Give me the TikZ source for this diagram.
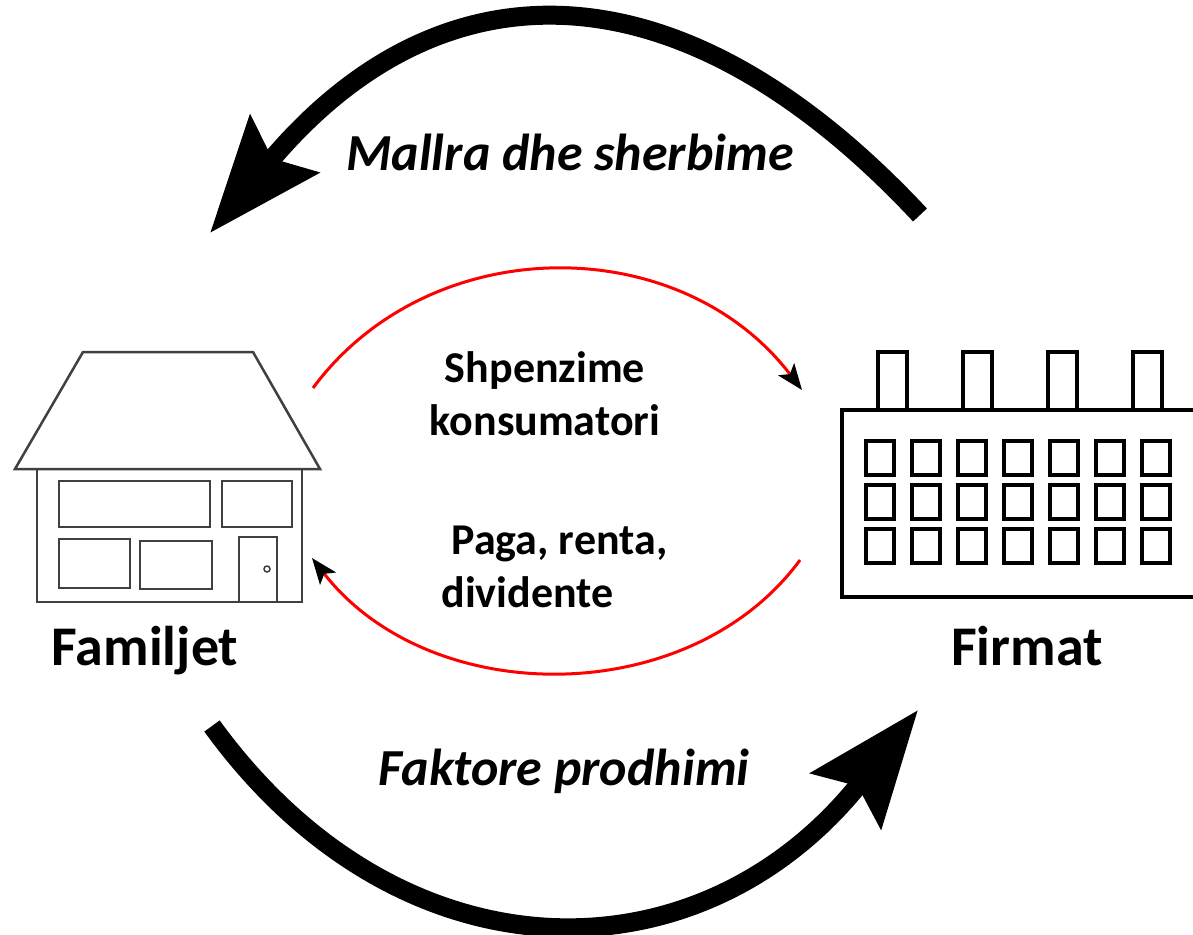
\documentclass[tikz,border=0pt]{standalone}
\usepackage{fontspec}
\setmainfont{Carlito}
\usetikzlibrary{arrows.meta}

\begin{document}
\begin{tikzpicture}[x=1pt,y=-1pt,
  flow/.style={line width=19pt,-{Stealth[length=115pt,width=88pt,inset=18pt]}},
  money/.style={red,line width=3pt,-{Stealth[length=26pt,width=20pt,inset=6pt,color=black]}},
  big/.style={font=\fontsize{56}{64}\selectfont\bfseries},
  flowtext/.style={font=\fontsize{52}{60}\selectfont\bfseries\itshape},
  small/.style={font=\fontsize{44}{53}\selectfont\bfseries},
  wall/.style={draw=black!75,line width=2.5pt},
  plant/.style={draw=black,line width=4pt}]
\useasboundingbox (0,0) rectangle (1193,934);

% house
\draw[wall] (83,352) -- (253,352) -- (320,469) -- (15,469) -- cycle;
\draw[wall] (37,469) rectangle (302,602);
\draw[wall] (59,481) rectangle (210,527);
\draw[wall] (222,481) rectangle (292,527);
\draw[wall] (59,539) rectangle (130,588);
\draw[wall] (140,541) rectangle (212,589);
\draw[wall] (239,537) rectangle (277,602);
\draw[wall,line width=1.5pt] (267,569) circle (3);

% factory
\draw[plant] (1200,410) -- (842,410) -- (842,597) -- (1200,597);
\foreach \x in {878,963,1048,1133}
  \draw[plant,line width=3.5pt] (\x,410) -- (\x,352) -- ({\x+29},352) -- ({\x+29},410);
\foreach \i in {0,...,6}
  \foreach \j in {0,1,2}
    \draw[plant,line width=3.5pt] ({866+46*\i},{441+44*\j}) rectangle +(28,34);

\node[big,anchor=base] (familjet) at (145,665) {Familjet};
\node[big,anchor=base] (firmat) at (1027,665) {Firmat};
\node[flowtext,anchor=base] (mallra) at (570,170) {Mallra dhe sherbime};
\node[flowtext,anchor=base] (faktore) at (564,785) {Faktore prodhimi};
\node[small,align=center,anchor=base] (shpenzime) at (545,435) {Shpenzime\\konsumatori};
\node[small,align=left,anchor=base west] (paga) at (438,607) {\hspace{10pt}Paga, renta,\\dividente};

\coordinate (h1) at (313,388);
\coordinate (f1) at (802,390);
\coordinate (f2) at (800,560);
\coordinate (h2) at (312,558);
\coordinate (ftop) at (920,215);
\coordinate (htop) at (210,233);
\coordinate (hbot) at (212,726);
\coordinate (fbot) at (918,710);

\draw[money] (h1) .. controls (430,230) and (680,230) .. (f1);
\draw[money] (f2) .. controls (690,710) and (430,710) .. (h2);
\draw[flow] (ftop) .. controls (680,-42) and (440,-42) .. (htop);
\draw[flow] (hbot) .. controls (400,985) and (700,985) .. (fbot);
\end{tikzpicture}
\end{document}
